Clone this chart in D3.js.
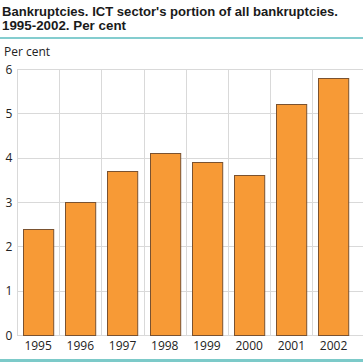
<!DOCTYPE html>
<html>
<head>
<meta charset="utf-8">
<script src="https://cdn.jsdelivr.net/npm/d3@7"></script>
<style>
  body { margin: 0; background: #fff; }
  svg { display: block; font-family: "Open Sans", sans-serif; }
</style>
</head>
<body>
<div id="chart"></div>
<script>
const years = ['1995', '1996', '1997', '1998', '1999', '2000', '2001', '2002'];
const shares = [2.4, 3.0, 3.7, 4.1, 3.9, 3.6, 5.2, 5.8];
const yTicks = [0, 1, 2, 3, 4, 5, 6];
const titleLines = ["Bankruptcies. ICT sector's portion of all bankruptcies.", '1995-2002. Per cent'];

const width = 363, height = 362;
const margin = { top: 69, right: 8.3, bottom: 27, left: 17 };

const svg = d3.select('#chart').append('svg')
  .attr('width', width)
  .attr('height', height);

// title, squeezed to the width used in the original
svg.selectAll('text.title')
  .data(titleLines)
  .enter()
  .append('text')
  .attr('class', 'title')
  .attr('x', 2)
  .attr('y', (d, i) => 15.5 + i * 14.5)
  .attr('font-family', '"Liberation Sans", Arial, sans-serif')
  .attr('font-weight', 'bold')
  .attr('font-size', 13)
  .attr('fill', '#1a1a1a')
  .attr('textLength', (d, i) => i === 0 ? 336 : 124)
  .attr('lengthAdjust', 'spacingAndGlyphs')
  .text(d => d);

svg.append('line')
  .attr('x1', 0).attr('x2', width)
  .attr('y1', 38).attr('y2', 38)
  .attr('stroke', '#5bbcbf').attr('stroke-width', 1.5);

svg.append('line')
  .attr('x1', 0).attr('x2', width)
  .attr('y1', 360.5).attr('y2', 360.5)
  .attr('stroke', '#7ccac9').attr('stroke-width', 3);

svg.append('text')
  .attr('x', 4).attr('y', 56)
  .attr('font-size', 12)
  .attr('fill', '#222')
  .text('Per cent');

const x = d3.scaleBand()
  .domain(years)
  .range([margin.left, width - margin.right]);

const y = d3.scaleLinear()
  .domain([0, 6])
  .range([height - margin.bottom, margin.top]);

const g = svg.append('g');

// horizontal grid
g.selectAll('line.hgrid')
  .data(yTicks)
  .enter()
  .append('line')
  .attr('x1', margin.left)
  .attr('x2', width)
  .attr('y1', d => Math.round(y(d)) + 0.5)
  .attr('y2', d => Math.round(y(d)) + 0.5)
  .attr('stroke', '#d9d9d9');

// vertical separators (none at the right edge)
g.selectAll('line.vgrid')
  .data(years)
  .enter()
  .append('line')
  .attr('x1', d => Math.round(x(d)) + 0.5)
  .attr('x2', d => Math.round(x(d)) + 0.5)
  .attr('y1', y(6))
  .attr('y2', y(0))
  .attr('stroke', '#d9d9d9');

// bars
const barPad = 6;
g.selectAll('rect')
  .data(shares)
  .enter()
  .append('rect')
  .attr('x', (d, i) => Math.round(x(years[i]) + barPad) + 0.5)
  .attr('width', x.bandwidth() - barPad * 2)
  .attr('y', d => Math.round(y(d)) + 0.5)
  .attr('height', d => Math.round(y(0)) - Math.round(y(d)))
  .attr('fill', '#f79a36')
  .attr('stroke', '#7a5230')
  .attr('stroke-width', 1);

// y labels
g.selectAll('text.ylab')
  .data(yTicks)
  .enter()
  .append('text')
  .attr('x', 9)
  .attr('y', d => y(d) + 4.5)
  .attr('text-anchor', 'middle')
  .attr('font-size', 12)
  .attr('fill', '#222')
  .text(d => d);

// x labels
g.selectAll('text.xlab')
  .data(years)
  .enter()
  .append('text')
  .attr('x', d => x(d) + x.bandwidth() / 2)
  .attr('y', height - margin.bottom + 15)
  .attr('text-anchor', 'middle')
  .attr('font-size', 12)
  .attr('fill', '#222')
  .text(d => d);
</script>
</body>
</html>
